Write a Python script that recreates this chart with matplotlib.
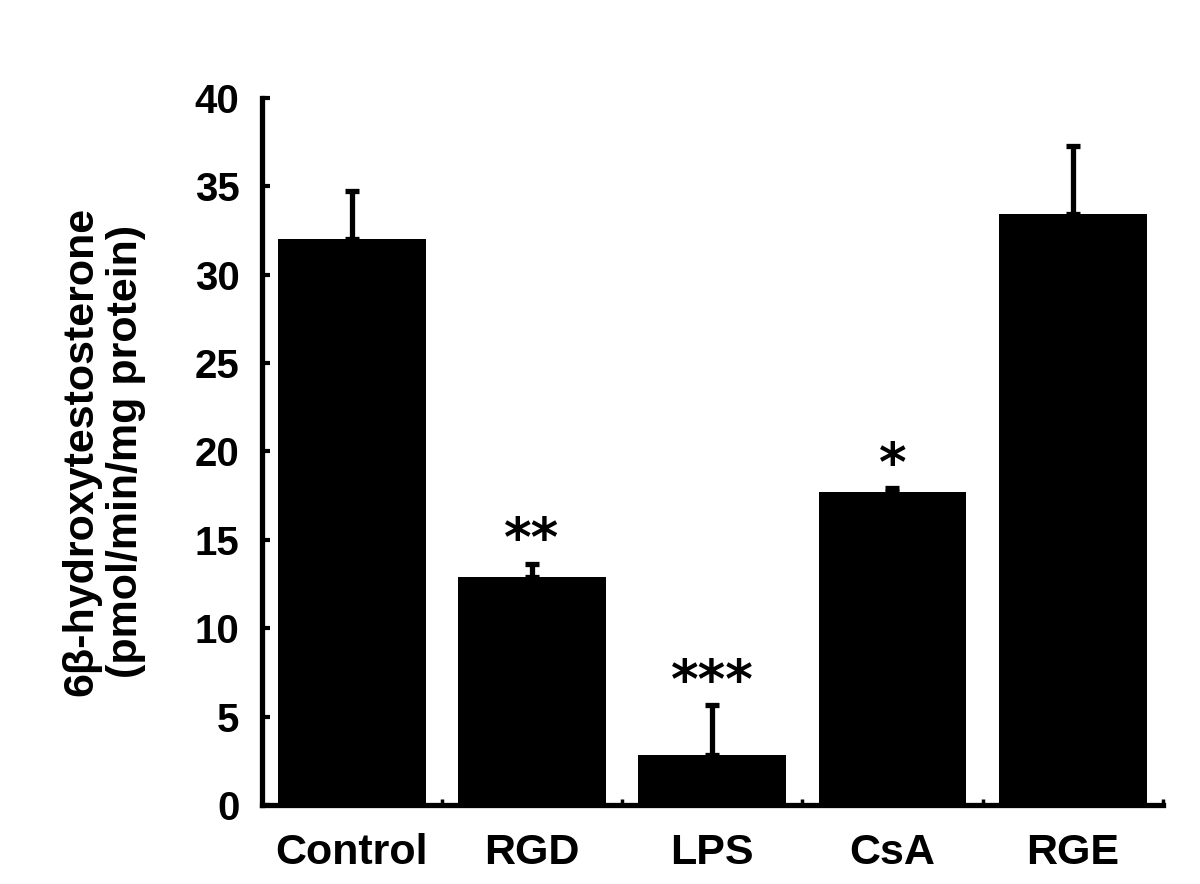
import matplotlib
matplotlib.use("Agg")
import matplotlib.pyplot as plt
import numpy as np

categories = ["Control", "RGD", "LPS", "CsA", "RGE"]
values = [32.0, 12.9, 2.8, 17.7, 33.4]
errors = [2.7, 0.75, 2.85, 0.2, 3.9]
stars = ["", "**", "***", "*", ""]
yticks = [0, 5, 10, 15, 20, 25, 30, 35, 40]

plt.rcParams['font.family'] = ['Liberation Sans', 'DejaVu Sans']
plt.rcParams['font.weight'] = 'bold'

fig = plt.figure(figsize=(12, 8.84), dpi=100)
ax = fig.add_axes([0.218, 0.0894, 0.751, 0.8])

x = np.arange(len(categories))
ax.bar(x, values, width=0.82, color='black', zorder=2)
ax.errorbar(x, values, yerr=[np.zeros(len(values)), errors], fmt='none',
            ecolor='black', elinewidth=3.8, capsize=5, capthick=3.8, zorder=3)

for xi, v, e, s in zip(x, values, errors, stars):
    if s:
        ax.text(xi, v + e - 0.2, s, ha='center', va='bottom', fontsize=38,
                fontweight='bold', family='DejaVu Sans')

ax.set_xlim(-0.5, len(categories) - 0.5)
ax.set_ylim(0, 40)
ax.set_yticks(yticks)
ax.set_yticklabels([str(t) for t in yticks], fontsize=29, fontweight='bold')
ax.set_xticks(x)
ax.set_xticklabels(categories, fontsize=31, fontweight='bold')
ax.tick_params(axis='x', length=0, pad=20)
ax.tick_params(axis='y', direction='in', length=6, width=3, pad=16)
ax.set_xticks(np.arange(0.5, len(categories), 1.0), minor=True)
ax.tick_params(axis='x', which='minor', direction='in', length=4, width=2.5)

for side in ['top', 'right']:
    ax.spines[side].set_visible(False)
for side in ['left', 'bottom']:
    ax.spines[side].set_linewidth(3.8)

ax.set_ylabel("6β-hydroxytestosterone\n(pmol/min/mg protein)", fontsize=31,
              fontweight='bold', labelpad=35, linespacing=1.15)

fig.savefig("out.png", dpi=100)
